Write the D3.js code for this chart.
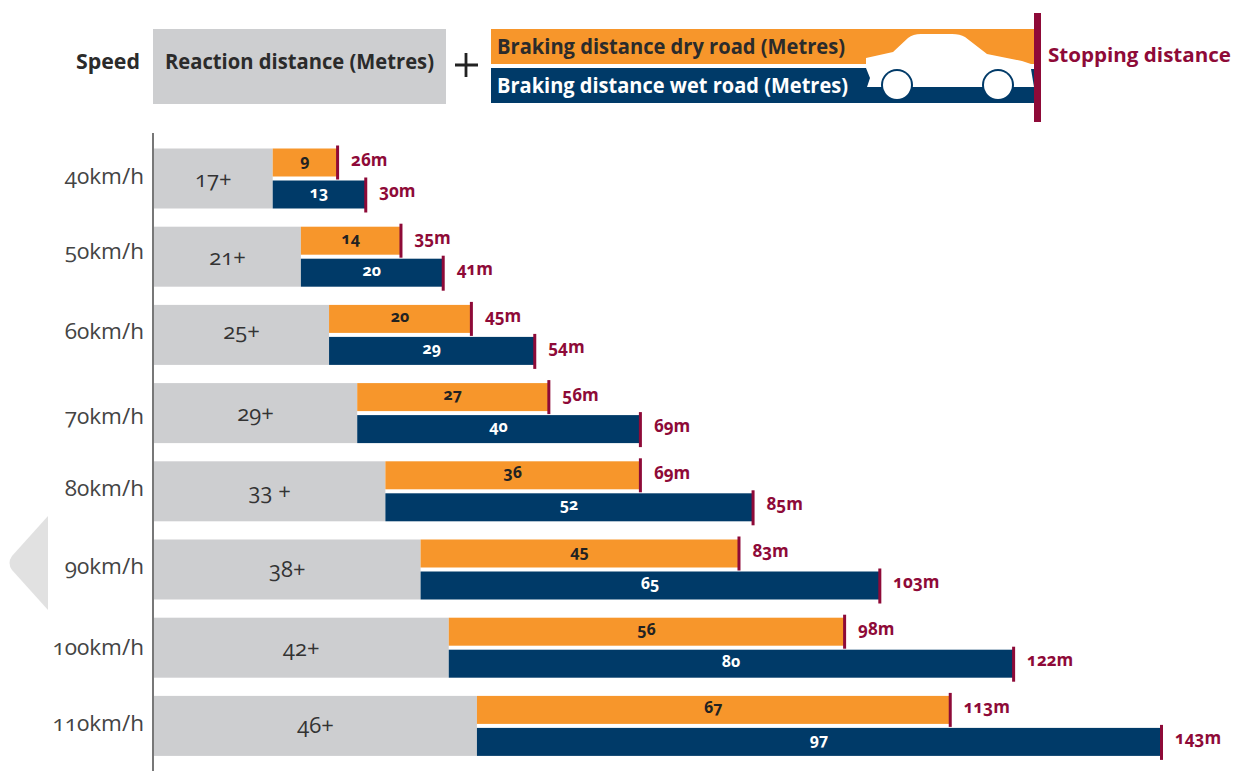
<!DOCTYPE html>
<html><head><meta charset="utf-8">
<script src="https://cdn.jsdelivr.net/npm/d3@7/dist/d3.min.js"></script>
<style>
html,body{margin:0;padding:0;background:#fff}
svg{display:block}
text{font-family:"Open Sans",Lato,sans-serif;font-feature-settings:"onum" 1;font-variant-numeric:oldstyle-nums}
</style></head><body>
<svg id="c" width="1233" height="771"></svg>
<script>
const speeds = ["40km/h","50km/h","60km/h","70km/h","80km/h","90km/h","100km/h","110km/h"];
const reaction = [17,21,25,29,33,38,42,46];
const reactionLabels = ["17+","21+","25+","29+","33 +","38+","42+","46+"];
const dry = [9,14,20,27,36,45,56,67];
const wet = [13,20,29,40,52,65,80,97];
const stopDry = [26,35,45,56,69,83,98,113];
const stopWet = [30,41,54,69,85,103,122,143];

// hand-set label offsets seen in the reference (layout only)
const speedNudge = [-2,-5,-3,4,-3,-3,0,-2];
const reactionNudge = [-1,-1,-5,-1,-1,-2,-1,-2];

const GREY="#cdced0",ORANGE="#f7962b",NAVY="#003a68",RED="#8e0a38",INK="#2b2b2b";
const svg=d3.select("#c");
const x=d3.scaleLinear().domain([0,143]).range([154,1161]);
const y=d3.scaleBand().domain(speeds).range([148.5,755.9]).paddingInner(18.2/78.2).paddingOuter(0);
const barH=28;
const split=i=>x(reaction[i])-1;

// nav arrow
svg.append("path").attr("d","M48,516 L48,610 L12,570 Q7,563 12,556 Z").attr("fill","#e1e1e1");

// header key
const T=(s,xp,yp,len,col,size)=>svg.append("text").attr("x",xp).attr("y",yp)
  .attr("font-size",size).attr("font-weight",700).attr("fill",col)
  .attr("textLength",len).attr("lengthAdjust","spacingAndGlyphs").attr("dominant-baseline","central").text(s);
svg.append("rect").attr("x",153).attr("y",29).attr("width",293).attr("height",75).attr("fill",GREY);
svg.append("rect").attr("x",491).attr("y",29).attr("width",543).attr("height",35).attr("fill",ORANGE);
svg.append("rect").attr("x",491).attr("y",68).attr("width",543).attr("height",35).attr("fill",NAVY);
svg.append("path").attr("fill","#fff")
  .attr("d","M866,58 L893,52 L908,38 Q913,34 921,34 L952,34 Q960,34 965,37 L987,54 L1022,61 L1034,65 L1034,87 L867,87 L870,78 L866,68 Z");
svg.append("path").attr("fill",NAVY).attr("d","M1031,69 L1034,69 L1034,87 Z");
[897,998].forEach(cx=>{
  svg.append("circle").attr("cx",cx).attr("cy",85).attr("r",16).attr("fill",NAVY);
  svg.append("circle").attr("cx",cx).attr("cy",85).attr("r",14).attr("fill","#fff");
});
svg.append("rect").attr("x",1034).attr("y",13).attr("width",7).attr("height",109).attr("fill",RED);
T("Speed",76,61,64,INK,21);
T("Reaction distance (Metres)",165,61,269,INK,21);
T("Braking distance dry road (Metres)",497,46,348,INK,21);
T("Braking distance wet road (Metres)",497,85,351,"#fff",21);
T("Stopping distance",1048,54,183,RED,20);
svg.append("path").attr("d","M455,65 H478 M466,53 V77").attr("stroke","#222").attr("stroke-width",2.8).attr("fill","none");

// rows
const rows=svg.selectAll("g.row").data(speeds.map((s,i)=>({s,i}))).join("g").attr("class","row");
rows.append("rect").attr("x",x(0)).attr("y",d=>y(d.s)).attr("height",y.bandwidth())
  .attr("width",d=>split(d.i)-x(0)).attr("fill",GREY);
rows.append("rect").attr("x",d=>split(d.i)).attr("y",d=>y(d.s)).attr("height",barH)
  .attr("width",d=>x(stopDry[d.i])-split(d.i)).attr("fill",ORANGE);
rows.append("rect").attr("x",d=>split(d.i)).attr("y",d=>y(d.s)+barH+4).attr("height",barH)
  .attr("width",d=>x(stopWet[d.i])-split(d.i)).attr("fill",NAVY);
rows.append("rect").attr("x",d=>x(stopDry[d.i])-1).attr("y",d=>y(d.s)-3).attr("width",3).attr("height",34).attr("fill",RED);
rows.append("rect").attr("x",d=>x(stopWet[d.i])-1).attr("y",d=>y(d.s)+29).attr("width",3).attr("height",35).attr("fill",RED);

const label=(sel,fx,fy,txt,col,size,weight,anchor)=>sel.append("text").attr("x",fx).attr("y",fy)
  .attr("fill",col).attr("font-size",size).attr("font-weight",weight).attr("text-anchor",anchor)
  .attr("dominant-baseline","central").text(txt);
label(rows,d=>(x(0)+split(d.i))/2,d=>y(d.s)+30+reactionNudge[d.i],d=>reactionLabels[d.i],"#333",22,400,"middle");
label(rows,d=>(split(d.i)+x(stopDry[d.i]))/2,d=>y(d.s)+barH/2-3,d=>dry[d.i],"#222",16,700,"middle");
label(rows,d=>(split(d.i)+x(stopWet[d.i]))/2,d=>y(d.s)+barH+4+barH/2-3,d=>wet[d.i],"#fff",16,700,"middle");
label(rows,d=>x(stopDry[d.i])+14,d=>y(d.s)+11,d=>stopDry[d.i]+"m",RED,17,700,"start");
label(rows,d=>x(stopWet[d.i])+14,d=>y(d.s)+42,d=>stopWet[d.i]+"m",RED,17,700,"start");

// speed axis
const ax=svg.append("g").attr("transform","translate(153,0)").call(d3.axisLeft(y).tickSize(0).tickPadding(9));
ax.select(".domain").remove();
ax.selectAll("text").attr("font-size",22.5).attr("fill","#444").style("font-family",'"Open Sans",Lato,sans-serif')
  .attr("transform",(d,i)=>`translate(0,${speedNudge[i]})`);
svg.append("line").attr("x1",153).attr("x2",153).attr("y1",133).attr("y2",771).attr("stroke","#777").attr("stroke-width",2);
</script>
</body></html>
